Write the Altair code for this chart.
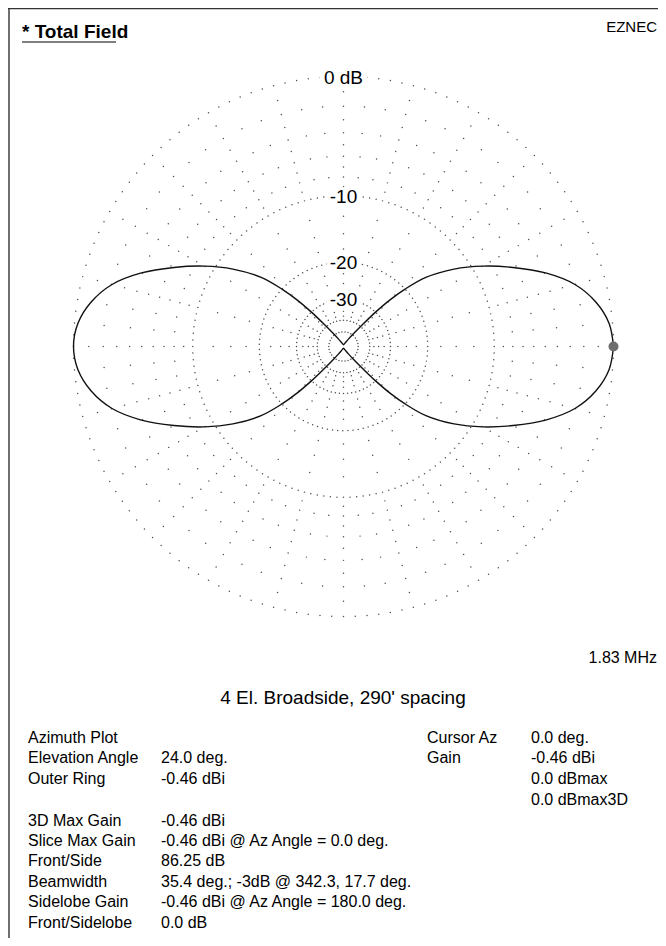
import altair as alt
import numpy as np
import pandas as pd

# ---------------- data ----------------
# azimuth angle (deg, 0 = right, counter-clockwise) and gain (dB below outer ring)
az_deg = [0, 5, 10, 15, 20, 25, 30, 35, 40, 43, 45, 47, 49, 52, 56, 62, 70, 80, 90,
          100, 110, 118, 124, 128, 131, 133, 135, 137, 140, 145, 150, 155, 160, 165, 170, 175, 180,
          185, 190, 195, 200, 205, 210, 215, 220, 223, 225, 227, 229, 232, 236, 242, 250, 260, 270,
          280, 290, 298, 304, 308, 311, 313, 315, 317, 320, 325, 330, 335, 340, 345, 350, 355, 360]
gain_db = [0.0, -0.22, -0.9, -2.05, -3.9, -6.3, -8.9, -11.9, -15.8, -20.0, -24.0, -30.0, -38.0, -48.0, -58.0, -68.0, -77.0, -83.0, -86.25,
           -83.0, -77.0, -68.0, -58.0, -48.0, -38.0, -30.0, -24.0, -20.0, -15.8, -11.9, -8.9, -6.3, -3.9, -2.05, -0.9, -0.22, 0.0,
           -0.22, -0.9, -2.05, -3.9, -6.3, -8.9, -11.9, -15.8, -20.0, -24.0, -30.0, -38.0, -48.0, -58.0, -68.0, -77.0, -83.0, -86.25,
           -83.0, -77.0, -68.0, -58.0, -48.0, -38.0, -30.0, -24.0, -20.0, -15.8, -11.9, -8.9, -6.3, -3.9, -2.05, -0.9, -0.22, 0.0]

cursor_az = [0.0]
cursor_db = [0.0]

ring_db = [0, -10, -20, -30, -40, -50]
ring_label_db = [0, -10, -20, -30]
ring_label_text = ["0 dB", "-10", "-20", "-30"]

title_text = "* Total Field"
program_text = "EZNEC"
freq_text = "1.83 MHz"
desc_text = "4 El. Broadside, 290' spacing"

left_labels = ["Azimuth Plot", "Elevation Angle", "Outer Ring",
               "3D Max Gain", "Slice Max Gain", "Front/Side", "Beamwidth",
               "Sidelobe Gain", "Front/Sidelobe"]
left_values = ["", "24.0 deg.", "-0.46 dBi",
               "-0.46 dBi", "-0.46 dBi @ Az Angle = 0.0 deg.", "86.25 dB",
               "35.4 deg.; -3dB @ 342.3, 17.7 deg.",
               "-0.46 dBi @ Az Angle = 180.0 deg.", "0.0 dB"]
right_labels = ["Cursor Az", "Gain", "", ""]
right_values = ["0.0 deg.", "-0.46 dBi", "0.0 dBmax", "0.0 dBmax3D"]

# ---------------- layout ----------------
W, H = 650, 930
CX, CY = 335.5, 338.5      # polar centre inside the chart, px
RPX = 270.0                # outer ring radius, px
FONT = "Liberation Sans"

xdom = [-CX / RPX, (W - CX) / RPX]
ydom = [-(H - CY) / RPX, CY / RPX]
xs = alt.Scale(domain=xdom, nice=False, zero=False)
ys = alt.Scale(domain=ydom, nice=False, zero=False)
pxs = alt.Scale(domain=[0, W], range=[0, W], nice=False, zero=False)
pys = alt.Scale(domain=[0, H], range=[0, H], nice=False, zero=False)


def polar(chart):
    return chart.transform_calculate(
        r="pow(0.89, -datum.g / 2)"
    ).transform_calculate(
        x="datum.r * cos(datum.a * PI / 180)",
        y="datum.r * sin(datum.a * PI / 180)",
    )


# ---------------- grid dots (ARRL log scale) ----------------
ring_step = [2.5, 2.5, 3.5, 5.0, 7.5, 12.0]
grid_rows = []
for db, st in zip(ring_db, ring_step):
    for a in np.arange(0, 360, st):
        grid_rows.append({"a": float(a), "g": float(db), "k": "ring"})
major_levels = [-1, -2, -3, -4, -5, -6, -7, -8, -9, -12.5, -15, -17.5,
                -22.5, -25, -27.5, -32.5, -35, -37.5]
minor_levels = [-2, -4, -6, -8]
for a in range(0, 360, 5):
    levels = major_levels if a % 15 == 0 else minor_levels
    for db in levels:
        grid_rows.append({"a": float(a), "g": float(db), "k": "spoke"})
grid_df = pd.DataFrame(grid_rows)

grid = polar(alt.Chart(grid_df)).mark_circle(size=2.2, color="#3a3a3a", opacity=0.9).encode(
    x=alt.X("x:Q", scale=xs, axis=None),
    y=alt.Y("y:Q", scale=ys, axis=None),
)

# ---------------- ring labels with white background ----------------
lab_df = pd.DataFrame({"a": [90.0] * len(ring_label_db), "g": ring_label_db,
                       "t": ring_label_text})
box0 = polar(alt.Chart(lab_df.iloc[:1])).mark_point(
    shape="M-1,-0.36L1,-0.36L1,0.36L-1,0.36Z", filled=True, color="white", opacity=1, size=48 * 48
).encode(x=alt.X("x:Q", scale=xs, axis=None), y=alt.Y("y:Q", scale=ys, axis=None))
boxn = polar(alt.Chart(lab_df.iloc[1:])).mark_point(
    shape="M-1,-0.5L1,-0.5L1,0.5L-1,0.5Z", filled=True, color="white", opacity=1, size=34 * 34
).encode(x=alt.X("x:Q", scale=xs, axis=None), y=alt.Y("y:Q", scale=ys, axis=None))
labels = polar(alt.Chart(lab_df)).mark_text(
    font=FONT, fontSize=19, color="black", align="center", baseline="middle", dy=1
).encode(x=alt.X("x:Q", scale=xs, axis=None), y=alt.Y("y:Q", scale=ys, axis=None), text="t:N")

# ---------------- pattern ----------------
pat_df = pd.DataFrame({"a": az_deg, "g": gain_db, "i": range(len(az_deg))})
pattern = polar(alt.Chart(pat_df)).mark_line(
    color="#111111", strokeWidth=1.4, interpolate="catmull-rom"
).encode(
    x=alt.X("x:Q", scale=xs, axis=None),
    y=alt.Y("y:Q", scale=ys, axis=None),
    order="i:Q",
)

cur_df = pd.DataFrame({"a": cursor_az, "g": cursor_db})
cursor = polar(alt.Chart(cur_df)).mark_circle(size=100, color="#6e6e6e", opacity=1).encode(
    x=alt.X("x:Q", scale=xs, axis=None), y=alt.Y("y:Q", scale=ys, axis=None)
)

# ---------------- frame and text ----------------
frame = alt.Chart(pd.DataFrame({"k": ["left", "top"]})).mark_rule(
    color="#333333", strokeWidth=1.4
).encode(
    x=alt.value(1), x2=alt.value(1), y=alt.value(0), y2=alt.value(H)
).transform_filter("datum.k == 'left'")
frame_top = alt.Chart(pd.DataFrame({"k": ["top"]})).mark_rule(
    color="#333333", strokeWidth=1.4
).encode(x=alt.value(0), x2=alt.value(W), y=alt.value(0.5))
underline = alt.Chart(pd.DataFrame({"k": ["u"]})).mark_rule(
    color="#555555", strokeWidth=1.5
).encode(x=alt.value(14), x2=alt.value(108), y=alt.value(34))

row_y = [730, 750, 771, 813, 833, 853, 874, 894, 915]
row_y_right = [730, 750, 771, 792]

left_rows = []
for t, yy in zip(left_labels, row_y):
    left_rows.append({"t": t, "px": 20, "py": yy, "fs": 16})
for t, yy in zip(left_values, row_y):
    left_rows.append({"t": t, "px": 153, "py": yy, "fs": 16})
for t, yy in zip(right_labels, row_y_right):
    left_rows.append({"t": t, "px": 419, "py": yy, "fs": 16})
for t, yy in zip(right_values, row_y_right):
    left_rows.append({"t": t, "px": 523, "py": yy, "fs": 16})
left_df = pd.DataFrame([r for r in left_rows if r["t"]])

right_df = pd.DataFrame([
    {"t": program_text, "px": 649, "py": 19, "fs": 15},
    {"t": freq_text, "px": 649, "py": 650, "fs": 16},
])
center_df = pd.DataFrame([{"t": desc_text, "px": 335, "py": 690, "fs": 19}])
title_df = pd.DataFrame([{"t": title_text, "px": 14, "py": 24, "fs": 19}])


def text_layer(df, align, weight="normal"):
    return alt.Chart(df).mark_text(
        font=FONT, align=align, baseline="middle", color="black", fontWeight=weight
    ).encode(
        x=alt.X("px:Q", scale=pxs, axis=None),
        y=alt.Y("py:Q", scale=pys, axis=None),
        text="t:N",
        size=alt.Size("fs:Q", scale=None, legend=None),
    )


texts = [text_layer(left_df, "left"), text_layer(right_df, "right"),
         text_layer(center_df, "center"), text_layer(title_df, "left", "bold")]

chart = alt.layer(
    grid, box0, boxn, labels, pattern, cursor, frame, frame_top, underline, *texts
).resolve_scale(
    x="independent", y="independent"
).properties(
    width=W, height=H, padding=0,
    autosize=alt.AutoSizeParams(type="none"),
    background="white",
).configure_view(strokeWidth=0)

chart.save("out.html", embed_options={"renderer": "svg", "actions": False})
